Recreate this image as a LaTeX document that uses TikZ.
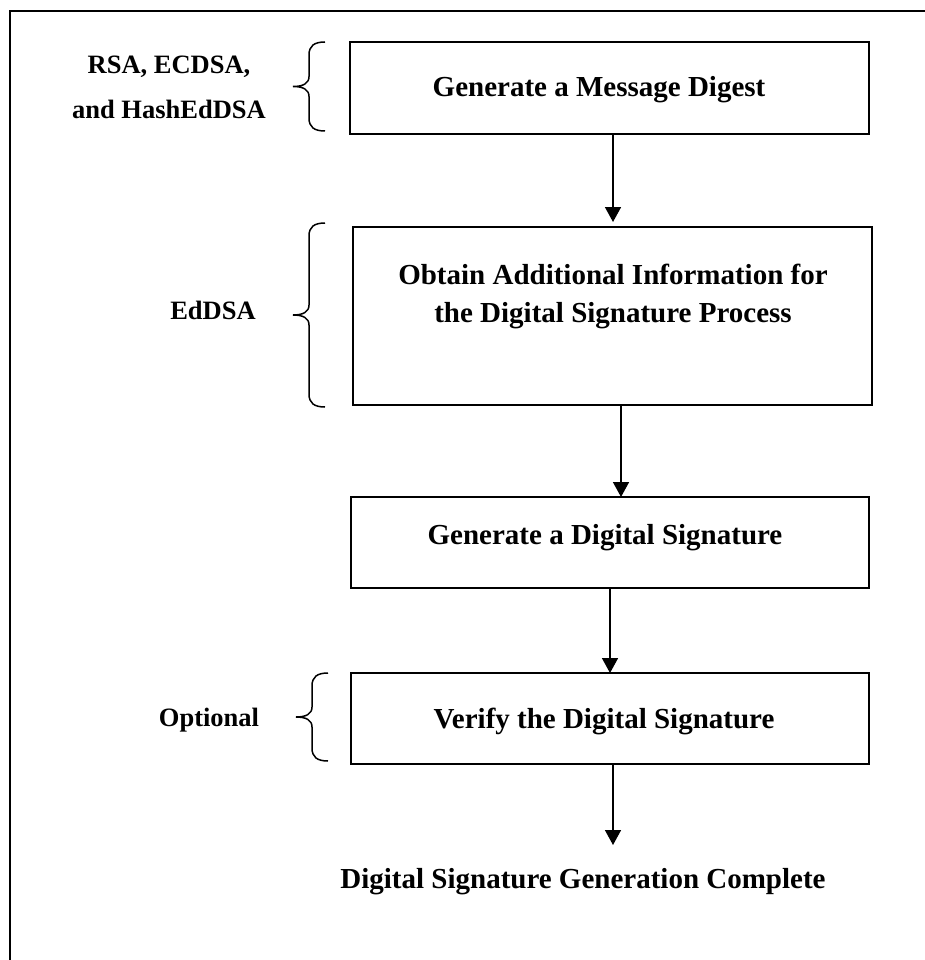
\documentclass[tikz,border=0pt]{standalone}
\usepackage{fontspec}
\setmainfont{Liberation Serif}
\usetikzlibrary{arrows.meta}
% curly brace opening to the right, tip pointing left
% #1 right x, #2 top y, #3 bottom y
\newcommand{\drawcbrace}[3]{%
  \pgfmathsetmacro{\brmid}{(#2+#3)/2}%
  \draw[bracestyle] (#1,#2) .. controls ({#1-11},#2) and ({#1-16},{#2+4}) .. ({#1-16},{#2+13})
    -- ({#1-16},{\brmid-10}) .. controls ({#1-16},{\brmid-3}) and ({#1-22},\brmid) .. ({#1-32},\brmid)
    .. controls ({#1-22},\brmid) and ({#1-16},{\brmid+3}) .. ({#1-16},{\brmid+10})
    -- ({#1-16},{#3-13}) .. controls ({#1-16},{#3-4}) and ({#1-11},#3) .. (#1,#3);
}
\begin{document}
\begin{tikzpicture}[x=1pt,y=-1pt,
  boxstyle/.style={draw, line width=1.8pt, inner sep=0pt, outer sep=0pt},
  boxtext/.style={font=\fontsize{29}{36}\selectfont\bfseries, anchor=base, inner sep=0pt},
  sidetext/.style={font=\fontsize{26.5}{32}\selectfont\bfseries, anchor=base, inner sep=0pt},
  arr/.style={line width=1.6pt, -{Triangle[length=15pt,width=16pt]}},
  bracestyle/.style={line width=1.5pt},
  framestyle/.style={line width=2.5pt}]
\useasboundingbox (0,0) rectangle (925,960);
\draw[framestyle] (10,960) -- (10,11) -- (925,11);

% boxes
\node[boxstyle, minimum width=519pt, minimum height=92pt]  (b1) at (609.5,88) {};
\node[boxstyle, minimum width=519pt, minimum height=178pt] (b2) at (612.5,316) {};
\node[boxstyle, minimum width=518pt, minimum height=91pt]  (b3) at (610,542.5) {};
\node[boxstyle, minimum width=518pt, minimum height=91pt]  (b4) at (610,718.5) {};

% box texts
\node[boxtext] (t1)  at (599,97)  {Generate a Message Digest};
\node[boxtext] (t2a) at (613,284) {Obtain Additional Information for};
\node[boxtext] (t2b) at (613,322) {the Digital Signature Process};
\node[boxtext] (t3)  at (605,544) {Generate a Digital Signature};
\node[boxtext] (t4)  at (604,728) {Verify the Digital Signature};
\node[boxtext] (fin) at (583,888) {Digital Signature Generation Complete};

% side labels
\node[sidetext] (l1a) at (169,74)  {RSA, ECDSA,};
\node[sidetext] (l1b) at (169,119) {and HashEdDSA};
\node[sidetext] (l2)  at (213,319) {EdDSA};
\node[sidetext] (l3)  at (209,726) {Optional};

% braces
\drawcbrace{325}{42}{131}
\drawcbrace{325}{223}{407}
\drawcbrace{328}{673}{761}

% connectors
\coordinate (endtip) at (613,845);
\draw[arr] ([xshift=3.5pt]b1.south) -- ([xshift=0.5pt,yshift=5pt]b2.north);
\draw[arr] ([xshift=8.5pt]b2.south) -- ([xshift=11pt]b3.north);
\draw[arr] (b3.south) -- (b4.north);
\draw[arr] ([xshift=3pt]b4.south) -- (endtip);
\end{tikzpicture}
\end{document}
